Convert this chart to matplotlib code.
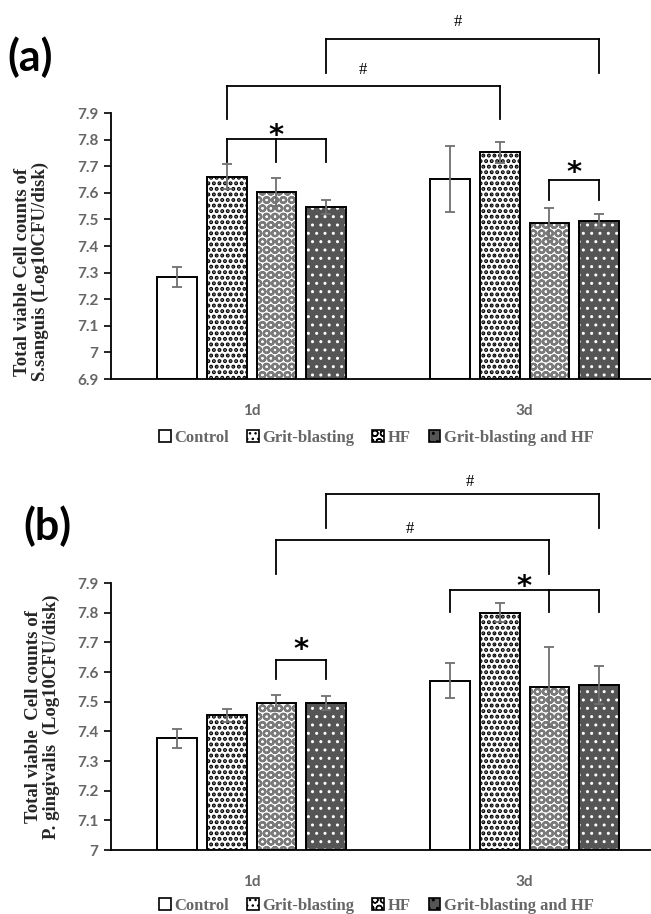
import numpy as np
import matplotlib
matplotlib.use("Agg")
import matplotlib.pyplot as plt
import matplotlib.patches as mpatches

# Data
days = ["1d", "3d"]
groups = ["Control", "Grit-blasting", "HF", "Grit-blasting and HF"]

sang_mean = [[7.285, 7.661, 7.603, 7.547], [7.652, 7.752, 7.488, 7.494]]
sang_err = [[0.038, 0.048, 0.054, 0.028], [0.123, 0.041, 0.056, 0.028]]

ging_mean = [[7.376, 7.454, 7.495, 7.495], [7.571, 7.800, 7.549, 7.556]]
ging_err = [[0.033, 0.021, 0.028, 0.024], [0.058, 0.032, 0.134, 0.065]]

sang_ticks = [6.9, 7.0, 7.1, 7.2, 7.3, 7.4, 7.5, 7.6, 7.7, 7.8, 7.9]
ging_ticks = [7.0, 7.1, 7.2, 7.3, 7.4, 7.5, 7.6, 7.7, 7.8, 7.9]

# bar styles: (face, hatch, hatch colour, hatch linewidth)
styles = [
    ("white", "", "white", 1.0),
    ("white", "...", "black", 2.0),
    ("white", "OO", "#7a7a7a", 1.6),
    ("#555555", "..", "white", 1.0),
]

GRAY = "#666666"
PITCH = 0.182
WIDTH = 0.145


def xpos(g, i):
    return g + (i - 1.5) * PITCH


def tick_fmt(v):
    return "7" if abs(v - 7) < 1e-9 else f"{v:.1f}"


def hatched(artist_fn, hlw):
    with plt.rc_context({"hatch.linewidth": hlw}):
        out = artist_fn()
    return out


def draw_panel(fig, rect, means, errs, ticks):
    ax = fig.add_axes(rect)
    base = ticks[0]
    for g in range(2):
        for i in range(4):
            face, hatch, hcol, hlw = styles[i]
            x = xpos(g, i)
            h = means[g][i] - base
            bars = hatched(lambda: ax.bar(x, h, WIDTH, bottom=base, color=face,
                                          hatch=hatch, edgecolor=hcol,
                                          linewidth=0, zorder=2), hlw)
            for p in bars:
                if hasattr(p, "set_hatch_linewidth"):
                    p.set_hatch_linewidth(hlw)
            ax.bar(x, h, WIDTH, bottom=base, fill=False,
                   edgecolor="black", linewidth=1.4, zorder=3)
            ax.errorbar(x, means[g][i], yerr=errs[g][i], color="#707070",
                        lw=1.3, capsize=3.5, capthick=1.3, zorder=4)
    ax.set_xlim(-0.515, 1.463)
    ax.set_ylim(ticks[0], ticks[-1])
    ax.set_yticks(ticks)
    ax.set_yticklabels([tick_fmt(t) for t in ticks], color=GRAY,
                       fontsize=11, family="Lato", fontweight="bold")
    ax.set_xticks([0, 1])
    ax.set_xticklabels(days, color=GRAY, fontsize=11, family="Lato",
                       fontweight="bold")
    ax.tick_params(axis="x", length=0, pad=18)
    ax.tick_params(axis="y", length=5, width=1.2, direction="out", pad=4)
    for s in ["top", "right"]:
        ax.spines[s].set_visible(False)
    ax.spines["left"].set_linewidth(1.3)
    ax.spines["bottom"].set_linewidth(1.3)
    return ax


def bracket(ax, xs, ytop, ybot, label, ylab, xlab=None, star=True):
    ax.plot([xs[0], xs[-1]], [ytop, ytop], color="black", lw=1.3,
            clip_on=False)
    for x in xs:
        ax.plot([x, x], [ytop, ybot], color="black", lw=1.3, clip_on=False)
    if xlab is None:
        xlab = (xs[0] + xs[-1]) / 2
    if star:
        ax.text(xlab, ylab, label, ha="center", va="center", fontsize=21,
                family="DejaVu Sans", fontweight="bold")
    else:
        ax.text(xlab, ylab, label, ha="center", va="center", fontsize=12,
                family="Liberation Serif")


def legend(fig, y):
    handles = []
    for i in range(4):
        face, hatch, hcol, hlw = styles[i]
        handles.append(mpatches.Patch(facecolor=face, hatch=hatch,
                                      edgecolor="black", linewidth=1.2))
    fig.legend(handles, groups, loc="center", bbox_to_anchor=(0.578, y),
               ncol=4, frameon=False, handlelength=0.7, handleheight=0.7,
               handletextpad=0.2, columnspacing=1.1,
               prop={"family": "Liberation Serif", "weight": "bold",
                     "size": 12}, labelcolor=GRAY)


fig = plt.figure(figsize=(6.51, 9.14), dpi=100)

# panel (a)
ax1 = draw_panel(fig, [0.1705, 0.5853, 0.8295, 0.2910], sang_mean,
                 sang_err, sang_ticks)
bracket(ax1, [xpos(0, 3), xpos(1, 3)], 8.178, 8.052, "#", 8.241,
        xlab=0.756, star=False)
bracket(ax1, [xpos(0, 1), xpos(1, 1)], 8.002, 7.877, "#", 8.062,
        xlab=0.406, star=False)
bracket(ax1, [xpos(0, 1), xpos(0, 2), xpos(0, 3)], 7.801, 7.716, "*", 7.815)
bracket(ax1, [xpos(1, 2), xpos(1, 3)], 7.650, 7.572, "*", 7.675)
fig.text(0.012, 0.937, "(a)", fontsize=31, family="Lato", fontweight="bold",
         va="center")
fig.text(0.049, 0.703, "Total viable Cell counts of\nS.sanguis (Log10CFU/disk)",
         rotation=90, ha="center", va="center", fontsize=13.5,
         family="Liberation Serif", fontweight="bold", color="#262626",
         linespacing=1.05)
legend(fig, 1 - 438 / 914)

# panel (b)
ax2 = draw_panel(fig, [0.1705, 0.0700, 0.8295, 0.2921], ging_mean,
                 ging_err, ging_ticks)
bracket(ax2, [xpos(0, 3), xpos(1, 3)], 8.199, 8.084, "#", 8.241,
        xlab=0.80, star=False)
bracket(ax2, [xpos(0, 2), xpos(1, 2)], 8.045, 7.930, "#", 8.081,
        xlab=0.58, star=False)
bracket(ax2, [xpos(1, 0), xpos(1, 2), xpos(1, 3)], 7.876, 7.803, "*", 7.885,
        xlab=0.997)
bracket(ax2, [xpos(0, 2), xpos(0, 3)], 7.641, 7.577, "*", 7.675)
fig.text(0.036, 0.424, "(b)", fontsize=31, family="Lato", fontweight="bold",
         va="center")
fig.text(0.066, 0.216,
         "Total viable  Cell counts of\nP. gingivalis  (Log10CFU/disk)",
         rotation=90, ha="center", va="center", fontsize=13.5,
         family="Liberation Serif", fontweight="bold", color="#262626",
         linespacing=1.05)
legend(fig, 1 - 906 / 914)

fig.savefig("out.png", dpi=100)
